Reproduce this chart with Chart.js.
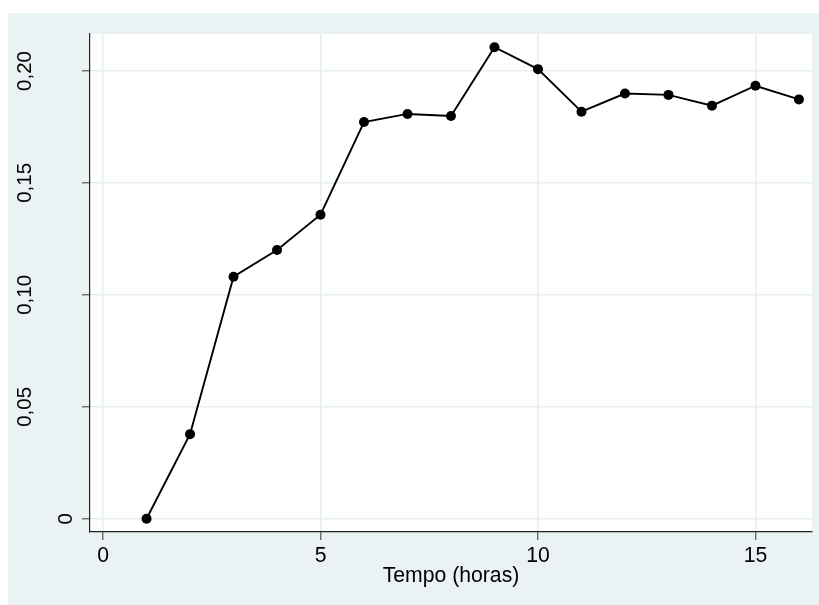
<!DOCTYPE html>
<html>
<head>
<meta charset="utf-8">
<script src="https://cdn.jsdelivr.net/npm/chart.js@4/dist/chart.umd.min.js"></script>
<style>
	html, body { margin: 0; padding: 0; background: #fff; }
	#wrap { position: absolute; left: 8px; top: 13px; width: 811px; height: 592px; background: #eaf2f3; }
</style>
</head>
<body>
<div id="wrap"><canvas id="chart" width="811" height="592"></canvas></div>
<script>
	// data
	var horas = [1, 2, 3, 4, 5, 6, 7, 8, 9, 10, 11, 12, 13, 14, 15, 16];
	var valores = [0, 0.0378, 0.1081, 0.1200, 0.1358, 0.1772, 0.1808, 0.1799, 0.2106, 0.2008, 0.1818, 0.1899, 0.1893, 0.1845, 0.1934, 0.1873];
	var xTicks = [0, 5, 10, 15];
	var yTicks = [0, 0.05, 0.10, 0.15, 0.20];
	var yTickLabels = ['0', '0,05', '0,10', '0,15', '0,20'];

	var fontFamily = '"Liberation Sans", Arial, Helvetica, sans-serif';
	var fontSize = 21.2;
	var yFontSize = 20.5;

	// white plot region
	var plotBg = {
		id: 'plotBg',
		beforeDraw: function(chart) {
			var a = chart.chartArea;
			var ctx = chart.ctx;
			ctx.save();
			ctx.fillStyle = '#ffffff';
			ctx.fillRect(a.left, a.top, a.right - a.left, a.bottom - a.top);
			ctx.restore();
		}
	};

	// rotated y labels, stata style
	var yLabels = {
		id: 'yLabels',
		afterDraw: function(chart) {
			var scale = chart.scales.y;
			var ctx = chart.ctx;
			ctx.save();
			ctx.font = yFontSize + 'px ' + fontFamily;
			ctx.fillStyle = '#000';
			ctx.textAlign = 'center';
			ctx.textBaseline = 'middle';
			for (var i = 0; i < yTicks.length; i++) {
				var w = ctx.measureText(yTickLabels[i]).width;
				var cx = chart.chartArea.left - 7 - 1.45 * w;
				var py = scale.getPixelForValue(yTicks[i]);
				ctx.save();
				ctx.translate(cx, py);
				ctx.rotate(-Math.PI / 2);
				ctx.fillText(yTickLabels[i], 0, 0);
				ctx.restore();
			}
			ctx.restore();
		}
	};

	var points = [];
	for (var i = 0; i < horas.length; i++) {
		points.push({ x: horas[i], y: valores[i] });
	}

	var gridColor = '#e6eff1';

	new Chart(document.getElementById('chart'), {
		type: 'line',
		data: {
			datasets: [{
				data: points,
				borderColor: '#000',
				borderWidth: 1.9,
				backgroundColor: '#000',
				pointRadius: 5,
				pointBackgroundColor: '#000',
				pointBorderColor: '#000',
				pointBorderWidth: 0,
				tension: 0,
				fill: false
			}]
		},
		options: {
			responsive: false,
			animation: false,
			layout: { padding: { left: 0, top: 21, right: 7, bottom: 0 } },
			plugins: {
				legend: { display: false },
				tooltip: { enabled: false }
			},
			scales: {
				x: {
					type: 'linear',
					min: -0.3,
					max: 16.3,
					afterBuildTicks: function(scale) {
						scale.ticks = xTicks.map(function(v) { return { value: v }; });
					},
					afterFit: function(scale) { scale.height = 73; },
					border: { display: true, color: '#222', width: 1.2 },
					grid: { color: gridColor, lineWidth: 1.5, tickLength: 8, tickColor: '#555', tickWidth: 1.2 },
					ticks: {
						padding: 3,
						maxRotation: 0,
						color: '#000',
						font: { family: fontFamily, size: fontSize },
						callback: function(v) { return String(v); }
					},
					title: {
						display: true,
						text: 'Tempo (horas)',
						color: '#000',
						font: { family: fontFamily, size: fontSize },
						padding: { top: 0, bottom: 16.5 }
					}
				},
				y: {
					type: 'linear',
					min: -0.0059,
					max: 0.2165,
					afterBuildTicks: function(scale) {
						scale.ticks = yTicks.map(function(v) { return { value: v }; });
					},
					afterFit: function(scale) { scale.width = 82; },
					border: { display: true, color: '#222', width: 1.2 },
					grid: { color: gridColor, lineWidth: 1.5, tickLength: 8, tickColor: '#555', tickWidth: 1.2 },
					ticks: { display: false }
				}
			}
		},
		plugins: [plotBg, yLabels]
	});
</script>
</body>
</html>
